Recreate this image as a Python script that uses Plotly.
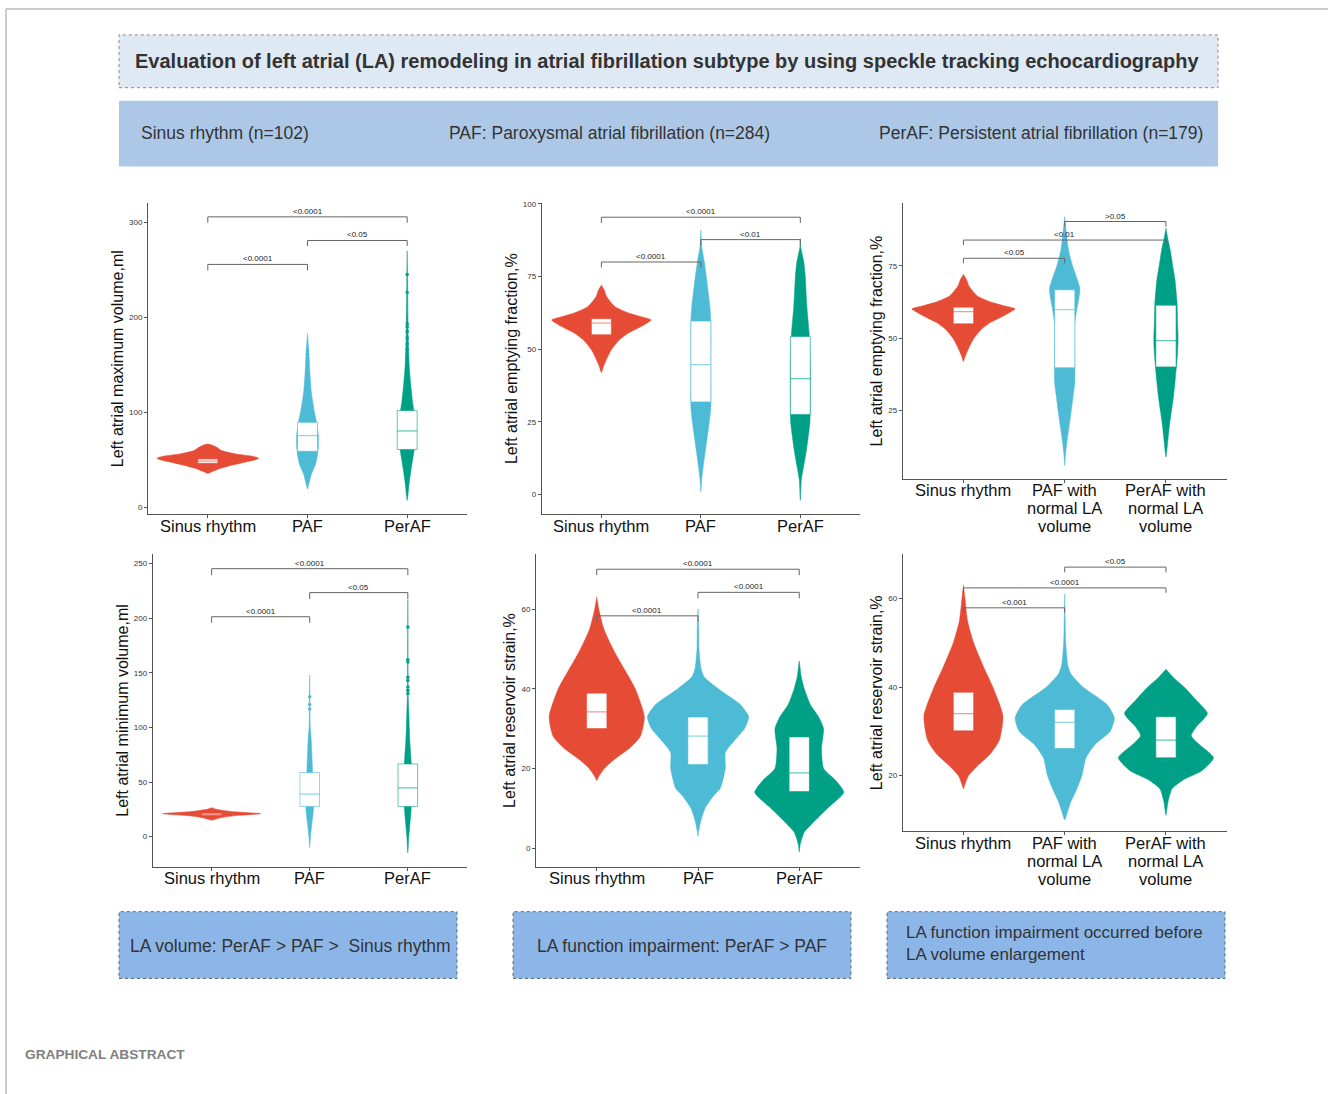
import plotly.graph_objects as go

W, H = 1328, 1094
FONT = "Liberation Sans, Arial, sans-serif"
RED, BLUE, TEAL = "#E64B35", "#4DBBD5", "#00A087"
BOXLINE = ["rgba(230,75,53,0.55)", "rgba(77,187,213,0.6)", "rgba(0,160,135,0.6)"]

# ---------------- data ----------------
CATS_A = [["Sinus rhythm"], ["PAF"], ["PerAF"]]
CATS_B = [["Sinus rhythm"], ["PAF with", "normal LA", "volume"], ["PerAF with", "normal LA", "volume"]]
CAT_POS = [1, 2, 3]

YTITLES = ["Left atrial maximum volume,ml", "Left atrial emptying fraction,%", "Left atrial emptying fraction,%",
           "Left atrial minimum volume,ml", "Left atrial reservoir strain,%", "Left atrial reservoir strain,%"]
YRANGES = [[-7.4, 320], [-6.7, 100.2], [1.4, 96.6], [-27.4, 258.6], [-4.7, 73.75], [7.4, 70]]
YTICKS = [[0, 100, 200, 300], [0, 25, 50, 75, 100], [25, 50, 75], [0, 50, 100, 150, 200, 250], [0, 20, 40, 60], [20, 40, 60]]

# violin profiles: value levels and half-widths (category units)
P1_SR_Y = [35.5, 36.8, 40.2, 43.8, 47.3, 50, 51.5, 53.6, 56, 59.5, 63, 65.5, 66.5]
P1_SR_W = [0, 0.03, 0.11, 0.23, 0.37, 0.48, 0.51, 0.45, 0.28, 0.14, 0.09, 0.04, 0]
P1_PAF_Y = [19, 25, 35, 45, 55, 65, 75, 90, 100, 120, 140, 160, 183]
P1_PAF_W = [0, 0.015, 0.04, 0.08, 0.1, 0.11, 0.11, 0.09, 0.07, 0.04, 0.025, 0.015, 0]
P1_PER_Y = [7, 10, 25, 40, 60, 80, 100, 110, 130, 150, 180, 200, 240, 270]
P1_PER_W = [0, 0.005, 0.02, 0.04, 0.07, 0.09, 0.07, 0.055, 0.035, 0.02, 0.01, 0.008, 0.004, 0]

P2_SR_Y = [42, 44, 46.4, 49.8, 53.2, 55.5, 57.8, 59, 60.1, 61.2, 62.4, 64.6, 68.1, 70.3, 72]
P2_SR_W = [0, 0.02, 0.05, 0.1, 0.18, 0.27, 0.4, 0.46, 0.5, 0.4, 0.28, 0.137, 0.053, 0.03, 0]
P2_PAF_Y = [1, 5, 10, 15, 20, 25, 30, 40, 50, 60, 65, 75, 80, 85, 91]
P2_PAF_W = [0, 0.008, 0.025, 0.045, 0.065, 0.085, 0.1, 0.1, 0.1, 0.1, 0.09, 0.055, 0.035, 0.01, 0]
P2_PER_Y = [-2, 5, 10, 15, 20, 25, 35, 45, 55, 65, 75, 80, 85, 88]
P2_PER_W = [0, 0.01, 0.035, 0.06, 0.08, 0.097, 0.1, 0.1, 0.09, 0.065, 0.05, 0.035, 0.005, 0]

P3_SR_Y = [42, 44, 46.4, 49.8, 53.2, 55.5, 57.8, 59, 60.1, 61.2, 62.4, 64.6, 68.1, 70.3, 72]
P3_SR_W = [0, 0.02, 0.05, 0.1, 0.18, 0.27, 0.4, 0.46, 0.51, 0.4, 0.28, 0.137, 0.053, 0.03, 0]
P3_PAF_Y = [6, 10, 15, 20, 25, 30, 35, 45, 55, 60, 67, 75, 80, 85, 92]
P3_PAF_W = [0, 0.008, 0.025, 0.045, 0.065, 0.083, 0.1, 0.1, 0.1, 0.12, 0.15, 0.077, 0.04, 0.02, 0]
P3_PER_Y = [9, 15, 20, 25, 30, 35, 45, 50, 55, 62, 70, 75, 80, 85, 88]
P3_PER_W = [0, 0.02, 0.035, 0.055, 0.075, 0.09, 0.115, 0.12, 0.115, 0.11, 0.09, 0.067, 0.045, 0.015, 0]

P4_SR_Y = [15, 17, 19, 21, 23, 25, 26.5]
P4_SR_W = [0, 0.08, 0.22, 0.5, 0.2, 0.05, 0]
P4_PAF_Y = [-10, 0, 10, 20, 27, 40, 58, 65, 80, 90, 100, 110, 130, 148]
P4_PAF_W = [0, 0.008, 0.02, 0.033, 0.04, 0.04, 0.03, 0.027, 0.02, 0.015, 0.006, 0.004, 0.003, 0]
P4_PER_Y = [-15, 0, 10, 20, 27, 45, 66, 75, 85, 100, 115, 130, 150, 217]
P4_PER_W = [0, 0.01, 0.02, 0.03, 0.035, 0.04, 0.035, 0.03, 0.022, 0.015, 0.01, 0.004, 0.003, 0]

P5_SR_Y = [17, 18, 20, 22, 25, 28, 33, 40, 45, 50, 55, 60, 63]
P5_SR_W = [0, 0.02, 0.075, 0.16, 0.32, 0.43, 0.47, 0.38, 0.27, 0.16, 0.07, 0.02, 0]
P5_PAF_Y = [3, 4, 7, 10, 13, 15, 20, 24, 27, 30, 33, 36, 40, 43, 45, 50, 55, 60]
P5_PAF_W = [0, 0.005, 0.03, 0.07, 0.15, 0.22, 0.27, 0.27, 0.36, 0.46, 0.5, 0.42, 0.2, 0.06, 0.03, 0.01, 0.008, 0]
P5_PER_Y = [-1, 1, 4, 7, 10, 14, 17, 20, 25, 30, 33, 36, 40, 43, 47]
P5_PER_W = [0, 0.01, 0.05, 0.16, 0.28, 0.44, 0.36, 0.24, 0.22, 0.24, 0.19, 0.11, 0.05, 0.02, 0]

P6_SR_Y = [17, 18, 20, 22, 25, 28, 33.5, 40, 45, 50, 55, 60, 63]
P6_SR_W = [0, 0.015, 0.05, 0.13, 0.27, 0.355, 0.39, 0.29, 0.19, 0.1, 0.04, 0.015, 0]
P6_PAF_Y = [10, 12, 14, 17, 20, 24, 27, 30, 33, 36, 40, 43, 45, 50, 55, 61]
P6_PAF_W = [0, 0.03, 0.06, 0.12, 0.17, 0.21, 0.3, 0.45, 0.49, 0.42, 0.18, 0.06, 0.03, 0.01, 0.005, 0]
P6_PER_Y = [11, 14, 17, 19, 21, 24, 27, 29, 31, 34, 37, 40, 42, 44]
P6_PER_W = [0, 0.02, 0.06, 0.17, 0.35, 0.47, 0.33, 0.25, 0.3, 0.41, 0.3, 0.18, 0.08, 0]

# box stats per panel: (q1, median, q3) for SR, PAF, PerAF
P1_BOX = [(46.2, 48.5, 50.7), (58.8, 75.3, 89.3), (60.6, 80.2, 101.6)]
P2_BOX = [(55, 59, 60.5), (31.9, 44.7, 59.7), (27.6, 39.9, 54.4)]
P3_BOX = [(55, 59.2, 60.7), (39.8, 59.9, 66.7), (40.1, 49.2, 61.4)]
P4_BOX = [(19.5, 20.5, 21.5), (27.7, 39, 58.7), (27.7, 44.7, 66.6)]
P5_BOX = [(30, 34.2, 38.9), (21, 28.1, 32.9), (14.2, 18.9, 27.9)]
P6_BOX = [(30.1, 34, 38.8), (26.1, 32, 34.9), (24, 28, 33.3)]
BOX_HALF = 0.1

# outliers
P1_PAF_OUT = [135, 140, 144, 148, 152, 155, 158, 161, 165]
P1_PER_OUT = [155, 160, 166, 172, 178, 185, 190, 193, 226, 245]
P4_PAF_OUT = [117, 121, 128]
P4_PER_OUT = [131, 134, 137, 143, 146, 160, 162, 192]

# significance brackets: (from, to, line value, tick-end value, label)
P1_SIG = [(1, 2, 255.6, 249.3, "<0.0001"), (1, 3, 305.7, 299.4, "<0.0001"), (2, 3, 280.8, 274.9, "<0.05")]
P2_SIG = [(1, 2, 80, 78.1, "<0.0001"), (1, 3, 95.4, 93.4, "<0.0001"), (2, 3, 87.7, 85.7, "<0.01")]
P3_SIG = [(1, 2, 77.6, 75.9, "<0.05"), (1, 3, 83.9, 82.2, "<0.01"), (2, 3, 90.3, 88.5, ">0.05")]
P4_SIG = [(1, 2, 201.4, 195.9, "<0.0001"), (1, 3, 245.4, 239.4, "<0.0001"), (2, 3, 223.5, 217.5, "<0.05")]
P5_SIG = [(1, 2, 58.3, 56.8, "<0.0001"), (1, 3, 70, 68.5, "<0.0001"), (2, 3, 64.2, 62.7, "<0.0001")]
P6_SIG = [(1, 2, 57.9, 56.8, "<0.001"), (1, 3, 62.4, 61.3, "<0.0001"), (2, 3, 67.1, 65.9, "<0.05")]

HEADER_TITLE = "Evaluation of left atrial (LA) remodeling in atrial fibrillation subtype by using speckle tracking echocardiography"
GROUP_TEXT = ["Sinus rhythm (n=102)", "PAF: Paroxysmal atrial fibrillation (n=284)", "PerAF: Persistent atrial fibrillation (n=179)"]
FOOT_TEXT = ["LA volume: PerAF &gt; PAF &gt;&nbsp; Sinus rhythm", "LA function impairment: PerAF &gt; PAF",
             "LA function impairment occurred before<br>LA volume enlargement"]

# ---------------- layout geometry (pixels) ----------------
DOMAINS = [(148, 467, 200, 512), (541.7, 860, 200, 512), (902.7, 1226.7, 200, 476.7),
           (152.7, 466.7, 552.3, 865.7), (536, 860, 552.3, 866), (902.7, 1226.7, 552.3, 830.3)]


def px(x):
    return x / W


def py(y):
    return 1 - y / H


fig = go.Figure()

panels = [
    [(P1_SR_Y, P1_SR_W), (P1_PAF_Y, P1_PAF_W), (P1_PER_Y, P1_PER_W)],
    [(P2_SR_Y, P2_SR_W), (P2_PAF_Y, P2_PAF_W), (P2_PER_Y, P2_PER_W)],
    [(P3_SR_Y, P3_SR_W), (P3_PAF_Y, P3_PAF_W), (P3_PER_Y, P3_PER_W)],
    [(P4_SR_Y, P4_SR_W), (P4_PAF_Y, P4_PAF_W), (P4_PER_Y, P4_PER_W)],
    [(P5_SR_Y, P5_SR_W), (P5_PAF_Y, P5_PAF_W), (P5_PER_Y, P5_PER_W)],
    [(P6_SR_Y, P6_SR_W), (P6_PAF_Y, P6_PAF_W), (P6_PER_Y, P6_PER_W)],
]
boxes = [P1_BOX, P2_BOX, P3_BOX, P4_BOX, P5_BOX, P6_BOX]
sigs = [P1_SIG, P2_SIG, P3_SIG, P4_SIG, P5_SIG, P6_SIG]
outs = {0: [None, P1_PAF_OUT, P1_PER_OUT], 3: [None, P4_PAF_OUT, P4_PER_OUT]}
colors = [RED, BLUE, TEAL]

annotations = []
shapes = []

for i in range(6):
    sfx = "" if i == 0 else str(i + 1)
    xa, ya = "x" + sfx, "y" + sfx
    # violins
    for g in range(3):
        ys, ws = panels[i][g]
        c = CAT_POS[g]
        xs = [c + w for w in ws] + [c - w for w in reversed(ws)]
        yy = list(ys) + list(reversed(ys))
        fig.add_trace(go.Scatter(x=xs, y=yy, mode="lines", fill="toself", fillcolor=colors[g],
                                 line=dict(color=colors[g], width=0.5, shape="spline", smoothing=0.6),
                                 xaxis=xa, yaxis=ya, hoverinfo="skip", showlegend=False))
    # boxes (white box with coloured outline and median)
    for g in range(3):
        q1, med, q3 = boxes[i][g]
        c = CAT_POS[g]
        fig.add_trace(go.Scatter(x=[c - BOX_HALF, c + BOX_HALF, c + BOX_HALF, c - BOX_HALF, c - BOX_HALF],
                                 y=[q1, q1, q3, q3, q1], mode="lines", fill="toself", fillcolor="white",
                                 line=dict(color=BOXLINE[g], width=1), xaxis=xa, yaxis=ya,
                                 hoverinfo="skip", showlegend=False))
        fig.add_trace(go.Scatter(x=[c - BOX_HALF, c + BOX_HALF], y=[med, med], mode="lines",
                                 line=dict(color=BOXLINE[g], width=1.3), xaxis=xa, yaxis=ya,
                                 hoverinfo="skip", showlegend=False))
    # outliers
    if i in outs:
        for g in range(3):
            o = outs[i][g]
            if o:
                fig.add_trace(go.Scatter(x=[CAT_POS[g]] * len(o), y=o, mode="markers",
                                         marker=dict(color=colors[g], size=3.5),
                                         xaxis=xa, yaxis=ya, showlegend=False, hoverinfo="skip"))
    # brackets
    for (a, b, yl, yt, lab) in sigs[i]:
        fig.add_trace(go.Scatter(x=[a, a, b, b], y=[yt, yl, yl, yt], mode="lines",
                                 line=dict(color="#666666", width=1), xaxis=xa, yaxis=ya,
                                 showlegend=False, hoverinfo="skip"))
        annotations.append(dict(x=(a + b) / 2, y=yl, xref=xa, yref=ya, text=lab, showarrow=False,
                                xanchor="center", yanchor="bottom", yshift=-1,
                                font=dict(family=FONT, size=8, color="#222")))
    # category labels below the x axis
    cats = CATS_B if i in (2, 5) else CATS_A
    for g in range(3):
        for k, t in enumerate(cats[g]):
            annotations.append(dict(x=CAT_POS[g], y=0, xref=xa, yref=ya + " domain", text=t,
                                    showarrow=False, xanchor="center", yanchor="middle",
                                    yshift=-(11.5 + 18 * k),
                                    font=dict(family=FONT, size=16.5, color="#111")))

layout_axes = {}
for i in range(6):
    x0, x1, y0, y1 = DOMAINS[i]
    sfx = "" if i == 0 else str(i + 1)
    layout_axes["xaxis" + sfx] = dict(
        domain=[px(x0), px(x1)], anchor="y" + sfx, range=[0.4, 3.6], tickvals=CAT_POS, showticklabels=False,
        showline=True, linecolor="#555", linewidth=1, ticks="outside", ticklen=3, tickcolor="#555",
        showgrid=False, zeroline=False, fixedrange=True)
    layout_axes["yaxis" + sfx] = dict(
        domain=[py(y1), py(y0)], anchor="x" + sfx, range=YRANGES[i], tickvals=YTICKS[i],
        showline=True, linecolor="#555", linewidth=1, ticks="outside", ticklen=3, tickcolor="#555",
        showgrid=False, zeroline=False, tickfont=dict(family=FONT, size=8, color="#333"),
        title=dict(text=YTITLES[i], font=dict(family=FONT, size=16, color="#111"), standoff=1), fixedrange=True)

# header / footer boxes
shapes.append(dict(type="rect", xref="paper", yref="paper", x0=px(119), x1=px(1218), y0=py(84), y1=py(31),
                   fillcolor="#DFE9F4", line=dict(color="#888", width=1, dash="dot"), layer="below"))
shapes.append(dict(type="rect", xref="paper", yref="paper", x0=px(119), x1=px(1218), y0=py(163), y1=py(97),
                   fillcolor="#ADC8E7", line=dict(width=0), layer="below"))
for (bx0, bx1) in [(119, 457), (513, 851), (887, 1225)]:
    shapes.append(dict(type="rect", xref="paper", yref="paper", x0=px(bx0), x1=px(bx1), y0=py(978), y1=py(911),
                       fillcolor="#8DB6E8", line=dict(color="#666", width=1, dash="dot"), layer="below"))
# outer frame
shapes.append(dict(type="line", xref="paper", yref="paper", x0=px(6), x1=px(1328), y0=py(5), y1=py(5),
                   line=dict(color="#999", width=1)))
shapes.append(dict(type="line", xref="paper", yref="paper", x0=px(6), x1=px(6), y0=py(5), y1=py(1094),
                   line=dict(color="#999", width=1)))

annotations.append(dict(x=px(667), y=py(57), xref="paper", yref="paper", text="<b>" + HEADER_TITLE + "</b>",
                        showarrow=False, xanchor="center", yanchor="middle",
                        font=dict(family=FONT, size=20, color="#333")))
for t, xx, anc in zip(GROUP_TEXT, [139, 447, 1205], ["left", "left", "right"]):
    annotations.append(dict(x=px(xx), y=py(129), xref="paper", yref="paper", text=t, showarrow=False,
                            xanchor=anc, yanchor="middle", font=dict(family=FONT, size=17.5, color="#333")))
annotations.append(dict(x=px(290), y=py(945), xref="paper", yref="paper", text=FOOT_TEXT[0], showarrow=False,
                        xanchor="center", yanchor="middle", font=dict(family=FONT, size=17.5, color="#333")))
annotations.append(dict(x=px(682), y=py(945), xref="paper", yref="paper", text=FOOT_TEXT[1], showarrow=False,
                        xanchor="center", yanchor="middle", font=dict(family=FONT, size=17.5, color="#333")))
annotations.append(dict(x=px(904), y=py(943), xref="paper", yref="paper", text=FOOT_TEXT[2], showarrow=False,
                        xanchor="left", yanchor="middle", align="left",
                        font=dict(family=FONT, size=17, color="#333")))
annotations.append(dict(x=px(23), y=py(1054), xref="paper", yref="paper", text="<b>GRAPHICAL ABSTRACT</b>",
                        showarrow=False, xanchor="left", yanchor="middle",
                        font=dict(family=FONT, size=13.7, color="#808080")))

fig.update_layout(width=W, height=H, margin=dict(l=0, r=0, t=0, b=0), paper_bgcolor="white",
                  plot_bgcolor="white", showlegend=False,
                  annotations=annotations, shapes=shapes, **layout_axes)

fig.write_html("out.html", config={"displayModeBar": False},
               post_script="document.body.style.margin='0px';document.body.style.overflow='hidden';")
